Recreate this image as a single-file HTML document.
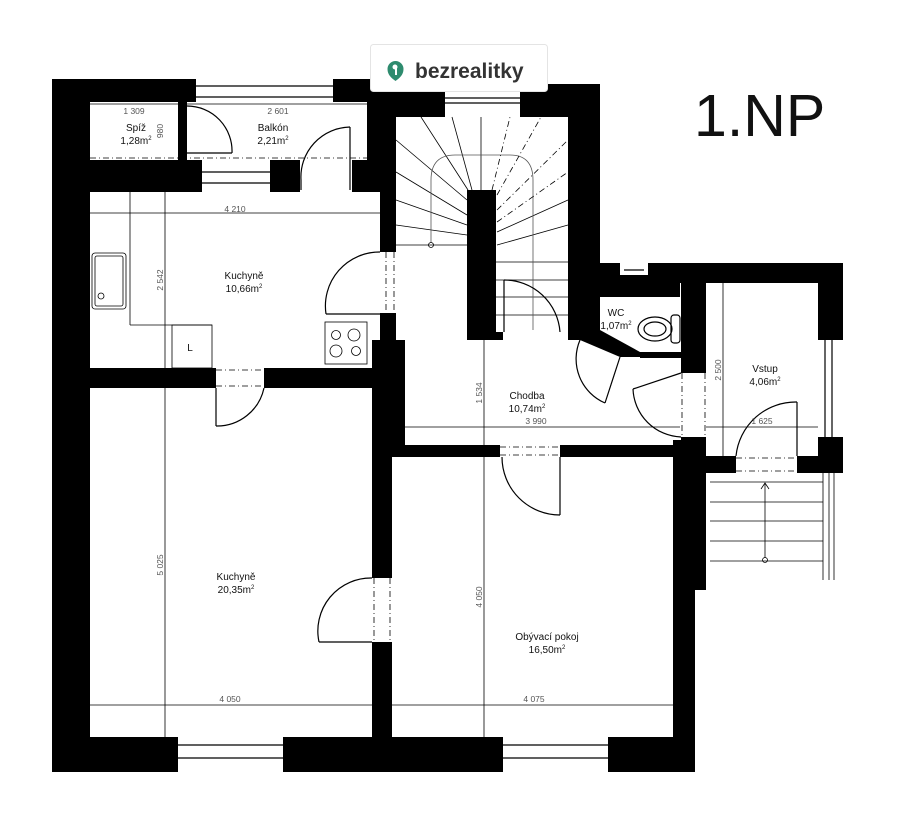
<!DOCTYPE html>
<html><head><meta charset="utf-8"><style>
html,body{margin:0;padding:0;background:#fff;width:917px;height:822px;overflow:hidden}
svg{display:block}
text{font-family:"Liberation Sans",sans-serif}
</style></head><body>
<svg width="917" height="822" viewBox="0 0 917 822" xmlns="http://www.w3.org/2000/svg">
<g fill="#000">
<rect x="52" y="79" width="38" height="693"/>
<rect x="52" y="79" width="144" height="23"/>
<rect x="333" y="79" width="37" height="23"/>
<rect x="178" y="100" width="9" height="67"/>
<rect x="370" y="84" width="75" height="33"/>
<rect x="520" y="84" width="80" height="33"/>
<rect x="367" y="100" width="29" height="92"/>
<rect x="568" y="84" width="32" height="250"/>
<rect x="52" y="160" width="150" height="32"/>
<rect x="270" y="160" width="30" height="32"/>
<rect x="352" y="160" width="44" height="32"/>
<rect x="380" y="160" width="16" height="92"/>
<rect x="380" y="313" width="16" height="30"/>
<rect x="372" y="340" width="33" height="105"/>
<rect x="52" y="368" width="164" height="20"/>
<rect x="264" y="368" width="130" height="20"/>
<rect x="467" y="190" width="29" height="145"/>
<rect x="467" y="332" width="36" height="8"/>
<rect x="600" y="263" width="20" height="34"/>
<rect x="648" y="263" width="195" height="20"/>
<rect x="600" y="275" width="80" height="22"/>
<polygon points="568,330 600,330 640,352 640,357 620,357 580,340 568,340"/>
<rect x="640" y="352" width="42" height="6"/>
<rect x="681" y="283" width="25" height="90"/>
<rect x="681" y="437" width="25" height="20"/>
<rect x="673" y="440" width="33" height="150"/>
<rect x="673" y="580" width="22" height="192"/>
<rect x="818" y="265" width="25" height="75"/>
<rect x="818" y="437" width="25" height="36"/>
<rect x="706" y="456" width="30" height="17"/>
<rect x="797" y="456" width="46" height="17"/>
<rect x="372" y="445" width="128" height="12"/>
<rect x="560" y="445" width="135" height="12"/>
<rect x="372" y="445" width="20" height="133"/>
<rect x="372" y="642" width="20" height="130"/>
<rect x="52" y="737" width="126" height="35"/>
<rect x="283" y="737" width="220" height="35"/>
<rect x="608" y="737" width="87" height="35"/>
</g>
<g stroke="#000" stroke-width="1.2" fill="none">
<line x1="196" y1="86" x2="333" y2="86"/><line x1="196" y1="97" x2="333" y2="97"/>
<line x1="202" y1="172" x2="270" y2="172"/><line x1="202" y1="183" x2="270" y2="183"/>
<line x1="445" y1="98" x2="520" y2="98"/><line x1="445" y1="103" x2="520" y2="103"/>
<line x1="178" y1="745" x2="283" y2="745"/><line x1="178" y1="758" x2="283" y2="758"/>
<line x1="503" y1="745" x2="608" y2="745"/><line x1="503" y1="758" x2="608" y2="758"/>
<line x1="825" y1="340" x2="825" y2="437"/><line x1="832" y1="340" x2="832" y2="437"/>
<line x1="624" y1="270" x2="644" y2="270"/>
</g>
<g stroke="#000" stroke-width="0.8" fill="none">
<line x1="90" y1="104" x2="367" y2="104"/>
<line x1="90" y1="213" x2="380" y2="213"/>
<line x1="130" y1="192" x2="130" y2="325"/><line x1="130" y1="325" x2="212" y2="325"/>
<line x1="165" y1="192" x2="165" y2="368"/>
<rect x="172" y="325" width="40" height="43"/>
<rect x="92" y="253" width="34" height="56" rx="3"/>
<rect x="95" y="256" width="28" height="50" rx="2"/>
<circle cx="101" cy="296" r="3"/>
<rect x="325" y="322" width="42" height="42"/>
<circle cx="336" cy="335" r="4.5"/><circle cx="354" cy="335" r="6"/>
<circle cx="336" cy="351" r="6"/><circle cx="356" cy="351" r="4.5"/>
<line x1="165" y1="388" x2="165" y2="737"/>
<line x1="90" y1="705" x2="372" y2="705"/>
<line x1="392" y1="705" x2="673" y2="705"/>
<line x1="484" y1="340" x2="484" y2="737"/>
<line x1="405" y1="427" x2="680" y2="427"/>
<line x1="706" y1="427" x2="818" y2="427"/>
<line x1="723" y1="283" x2="723" y2="456"/>
<line x1="710" y1="482" x2="823" y2="482"/><line x1="710" y1="502" x2="823" y2="502"/>
<line x1="710" y1="521" x2="823" y2="521"/><line x1="710" y1="541" x2="823" y2="541"/>
<line x1="710" y1="561" x2="823" y2="561"/>
<line x1="765" y1="483" x2="765" y2="558"/><circle cx="765" cy="560" r="2.5"/>
<polyline points="761,489 765,483 769,489"/>
<line x1="823" y1="473" x2="823" y2="580"/><line x1="829" y1="473" x2="829" y2="580"/><line x1="834" y1="473" x2="834" y2="580"/>
<line x1="468" y1="190" x2="421" y2="117"/><line x1="472" y1="190" x2="452" y2="117"/>
<line x1="481" y1="117" x2="481" y2="190"/>
<line x1="467" y1="200" x2="396" y2="140"/><line x1="467" y1="215" x2="396" y2="172"/>
<line x1="467" y1="225" x2="396" y2="200"/><line x1="467" y1="235" x2="396" y2="225"/>
<line x1="396" y1="245" x2="467" y2="245"/>
<line x1="497" y1="232" x2="568" y2="200"/><line x1="497" y1="245" x2="568" y2="225"/>
<line x1="496" y1="262" x2="568" y2="262"/><line x1="496" y1="280" x2="568" y2="280"/>
<line x1="496" y1="297" x2="568" y2="297"/><line x1="496" y1="315" x2="568" y2="315"/>
<path d="M431 243 V180 Q431 155 455 155 H510 Q533 155 533 180 V330" stroke="#555"/>
<circle cx="431" cy="245" r="2.5"/>
</g>
<g stroke="#000" stroke-width="0.8" stroke-dasharray="6,3,1,3" fill="none">
<line x1="492" y1="190" x2="510" y2="117"/><line x1="497" y1="195" x2="541" y2="117"/>
<line x1="497" y1="210" x2="568" y2="140"/><line x1="497" y1="222" x2="568" y2="172"/>
<line x1="90" y1="158" x2="367" y2="158"/>
<line x1="180" y1="104" x2="180" y2="158"/><line x1="186" y1="104" x2="186" y2="158"/>
<line x1="386" y1="252" x2="386" y2="313"/><line x1="394" y1="252" x2="394" y2="313"/>
<line x1="216" y1="370" x2="264" y2="370"/><line x1="216" y1="386" x2="264" y2="386"/>
<line x1="374" y1="578" x2="374" y2="642"/><line x1="390" y1="578" x2="390" y2="642"/>
<line x1="500" y1="447" x2="560" y2="447"/><line x1="500" y1="455" x2="560" y2="455"/>
<line x1="682" y1="373" x2="682" y2="437"/><line x1="705" y1="373" x2="705" y2="437"/>
<line x1="736" y1="458" x2="797" y2="458"/><line x1="736" y1="471" x2="797" y2="471"/>
<line x1="580" y1="338" x2="635" y2="356"/>
</g>
<g stroke="#000" stroke-width="1.2" fill="none">
<path d="M187 106 A45 45 0 0 1 232 153"/><line x1="187" y1="153" x2="232" y2="153"/>
<line x1="350" y1="127" x2="350" y2="190"/><path d="M350 127 A50 50 0 0 0 301 180 V190"/>
<line x1="326" y1="314" x2="380" y2="314"/><path d="M326 314 A54 54 0 0 1 380 252"/>
<line x1="216" y1="388" x2="216" y2="426"/><path d="M216 426 A48 48 0 0 0 264 388"/>
<line x1="319" y1="642" x2="372" y2="642"/><path d="M319 642 A53 53 0 0 1 372 578"/>
<line x1="560" y1="457" x2="560" y2="515"/><path d="M560 515 A58 58 0 0 1 502 457"/>
<line x1="504" y1="280" x2="504" y2="332"/><path d="M504 280 A56 56 0 0 1 560 332"/>
<line x1="620" y1="357" x2="605" y2="403"/><path d="M605 403 A48 48 0 0 1 580 340"/>
<line x1="633" y1="389" x2="681" y2="373"/><path d="M633 389 A50 50 0 0 0 681 437"/>
<line x1="797" y1="402" x2="797" y2="456"/><path d="M736 456 A60 60 0 0 1 797 402"/>
<rect x="671" y="315" width="9" height="28" rx="3"/>
<ellipse cx="655" cy="329" rx="17" ry="12"/><ellipse cx="655" cy="329" rx="11" ry="7"/>
</g>
<g font-size="10" fill="#111" text-anchor="middle">
<text x="136" y="131">Spíž</text><text x="136" y="144">1,28m<tspan font-size="6" dy="-4">2</tspan></text>
<text x="273" y="131">Balkón</text><text x="273" y="144">2,21m<tspan font-size="6" dy="-4">2</tspan></text>
<text x="244" y="279">Kuchyně</text><text x="244" y="292">10,66m<tspan font-size="6" dy="-4">2</tspan></text>
<text x="236" y="580">Kuchyně</text><text x="236" y="593">20,35m<tspan font-size="6" dy="-4">2</tspan></text>
<text x="527" y="399">Chodba</text><text x="527" y="412">10,74m<tspan font-size="6" dy="-4">2</tspan></text>
<text x="616" y="316">WC</text><text x="616" y="329">1,07m<tspan font-size="6" dy="-4">2</tspan></text>
<text x="765" y="372">Vstup</text><text x="765" y="385">4,06m<tspan font-size="6" dy="-4">2</tspan></text>
<text x="547" y="640">Obývací pokoj</text><text x="547" y="653">16,50m<tspan font-size="6" dy="-4">2</tspan></text>
<text x="190" y="351" font-size="10">L</text>
</g>
<g font-size="8.5" fill="#555" text-anchor="middle">
<text x="134" y="114">1 309</text><text x="278" y="114">2 601</text>
<text x="235" y="212">4 210</text>
<text x="536" y="424">3 990</text><text x="762" y="424">1 625</text>
<text x="230" y="702">4 050</text><text x="534" y="702">4 075</text>
<text transform="translate(163,131) rotate(-90)">980</text>
<text transform="translate(163,280) rotate(-90)">2 542</text>
<text transform="translate(163,565) rotate(-90)">5 025</text>
<text transform="translate(482,597) rotate(-90)">4 050</text>
<text transform="translate(482,393) rotate(-90)">1 534</text>
<text transform="translate(721,370) rotate(-90)">2 500</text>
</g>
<rect x="370.5" y="44.5" width="177" height="47" rx="3" fill="#fff" stroke="#e4e4e4"/>
<path d="M395.5 61 a8 8 0 0 1 8 8 c0 6 -4 9 -8 12 c-4 -3 -8 -6 -8 -12 a8 8 0 0 1 8 -8z" fill="#2e8b6e"/>
<circle cx="395" cy="67" r="2.5" fill="#fff"/><rect x="395" y="68" width="2" height="7" fill="#fff"/>
<text x="415" y="78" font-size="21" font-weight="bold" fill="#333">bezrealitky</text>
<text x="694" y="136" font-size="59" fill="#111">1.NP</text>
</svg>
</body></html>
